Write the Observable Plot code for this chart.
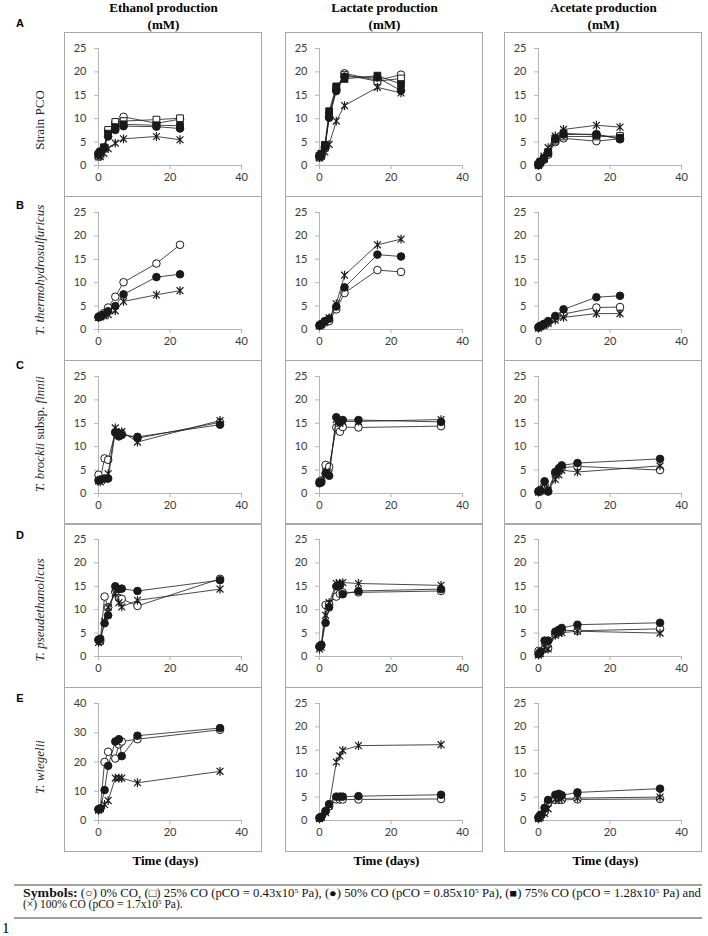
<!DOCTYPE html>
<html><head><meta charset="utf-8">
<script src="https://cdn.jsdelivr.net/npm/d3@7"></script>
<script src="https://cdn.jsdelivr.net/npm/@observablehq/plot@0.6"></script>
<style>
html,body{margin:0;padding:0;background:#fff;}
#root{position:relative;width:708px;height:936px;overflow:hidden;background:#fff;}
</style></head><body><div id="root"></div>
<script>
// ---------- DATA ----------
const columnTitles = ["Ethanol production", "Lactate production", "Acetate production"];
const rowLetters = ["A", "B", "C", "D", "E"];
const seriesKeys = ["0", "25", "50", "75", "100"];
const xTicks = [0, 20, 40];
const yTicks25 = [0, 5, 10, 15, 20, 25];
const yTicks40 = [0, 10, 20, 30, 40];

const tAB = [0, 0.5, 1.5, 2.7, 4.7, 7, 16.2, 22.8];
const tCDE = [0, 0.5, 1.7, 2.7, 4.7, 5.7, 6.5, 10.9, 34];

// Row A: Strain PCO
const A_eth_0   = [2.4, 2.8, 3.8, 7.4, 9.1, 10.4, 9.0, 9.9];
const A_eth_25  = [1.9, 2.5, 3.6, 7.6, 9.3, 9.5, 9.8, 10.1];
const A_eth_50  = [2.6, 3.0, 3.7, 6.2, 7.6, 8.4, 8.3, 7.9];
const A_eth_75  = [2.3, 2.9, 3.9, 6.8, 8.2, 8.8, 8.6, 8.5];
const A_eth_100 = [2.3, 1.9, 2.6, 3.6, 4.8, 5.7, 6.2, 5.5];
const A_lac_0   = [1.8, 2.2, 3.6, 10.4, 16.2, 19.7, 18.2, 19.4];
const A_lac_25  = [1.7, 2.1, 3.8, 10.8, 16.6, 19.4, 18.0, 18.6];
const A_lac_50  = [2.0, 2.3, 4.0, 10.2, 15.9, 19.0, 18.8, 16.0];
const A_lac_75  = [2.1, 2.5, 4.4, 11.6, 16.9, 18.5, 19.2, 17.4];
const A_lac_100 = [1.7, 2.0, 2.9, 4.5, 9.5, 12.8, 16.7, 15.5];
const A_ace_0   = [0.1, 0.5, 1.2, 2.3, 5.0, 5.8, 5.2, 5.7];
const A_ace_25  = [0.2, 0.6, 1.4, 2.6, 5.3, 6.2, 6.2, 6.3];
const A_ace_50  = [0.3, 0.8, 1.6, 2.8, 5.6, 6.6, 6.7, 5.6];
const A_ace_75  = [0.2, 0.7, 1.5, 2.9, 5.8, 6.9, 6.5, 5.9];
const A_ace_100 = [0.0, 0.9, 2.0, 3.8, 6.3, 7.7, 8.6, 8.2];

// Row B: T. thermohydrosulfuricus
const B_eth_0   = [2.7, 3.0, 3.5, 4.7, 7.0, 10.1, 14.1, 18.1];
const B_eth_50  = [2.6, 2.8, 3.2, 3.9, 5.0, 7.5, 11.2, 11.8];
const B_eth_100 = [2.6, 2.7, 2.9, 3.2, 4.0, 6.0, 7.4, 8.3];
const B_lac_0   = [0.8, 1.0, 1.5, 1.8, 4.3, 7.8, 12.7, 12.3];
const B_lac_50  = [0.9, 1.2, 1.8, 2.3, 4.9, 9.0, 16.0, 15.6];
const B_lac_100 = [0.8, 1.0, 1.6, 2.5, 5.5, 11.6, 18.1, 19.3];
const B_ace_0   = [0.4, 0.7, 1.0, 1.5, 2.4, 3.3, 4.7, 4.8];
const B_ace_50  = [0.5, 0.8, 1.2, 1.8, 2.9, 4.3, 6.9, 7.2];
const B_ace_100 = [0.3, 0.6, 0.9, 1.3, 2.0, 2.6, 3.4, 3.4];

// Row C: T. brockii subsp. finnii
const C_eth_0   = [4.0, 3.0, 7.5, 7.2, 13.0, 12.2, 12.8, 11.8, 15.2];
const C_eth_50  = [2.8, 2.9, 3.2, 3.2, 13.1, 12.3, 12.5, 12.1, 14.7];
const C_eth_100 = [2.7, 2.5, 3.0, 4.2, 14.0, 13.0, 13.2, 11.0, 15.6];
const C_lac_0   = [2.5, 2.8, 6.1, 5.7, 14.1, 13.2, 14.2, 14.1, 14.4];
const C_lac_50  = [2.2, 2.4, 4.3, 3.8, 16.3, 15.2, 15.7, 15.7, 15.3];
const C_lac_100 = [2.3, 2.6, 4.6, 4.2, 15.8, 15.0, 15.4, 15.4, 15.8];
const C_ace_0   = [0.5, 0.8, 1.8, 0.4, 4.3, 4.8, 5.5, 5.8, 5.0];
const C_ace_50  = [0.4, 0.6, 2.6, 0.5, 4.6, 5.4, 6.0, 6.5, 7.4];
const C_ace_100 = [0.3, 0.5, 2.2, 0.6, 3.0, 4.0, 5.0, 4.6, 5.9];

// Row D: T. pseudethanolicus
const D_eth_0   = [3.5, 3.3, 12.8, 10.5, 13.8, 12.5, 12.3, 10.8, 16.6];
const D_eth_50  = [3.6, 3.8, 7.1, 8.8, 15.0, 14.4, 14.5, 14.0, 16.3];
const D_eth_100 = [3.0, 3.3, 7.5, 10.5, 13.5, 11.5, 10.6, 12.0, 14.4];
const D_lac_0   = [2.0, 2.4, 11.0, 11.2, 12.8, 13.4, 13.7, 13.7, 14.0];
const D_lac_50  = [2.2, 2.5, 7.2, 10.5, 15.0, 15.2, 13.3, 14.0, 14.4];
const D_lac_100 = [1.6, 2.0, 8.8, 11.5, 15.6, 15.6, 15.8, 15.6, 15.2];
const D_ace_0   = [1.2, 0.8, 1.6, 1.8, 4.8, 5.2, 5.6, 5.5, 5.9];
const D_ace_50  = [0.5, 1.0, 3.4, 3.4, 5.3, 5.7, 6.1, 6.8, 7.2];
const D_ace_100 = [0.3, 0.6, 2.0, 1.6, 4.5, 5.0, 5.1, 5.4, 5.0];

// Row E: T. wiegelii
const E_eth_0   = [3.8, 4.2, 20.0, 23.5, 21.2, 26.0, 27.0, 27.8, 31.0];
const E_eth_50  = [3.8, 4.0, 10.4, 18.7, 27.0, 27.8, 22.0, 29.0, 31.6];
const E_eth_100 = [3.5, 4.0, 5.5, 6.8, 14.5, 14.5, 14.5, 12.9, 16.8];
const E_lac_0   = [0.5, 0.7, 2.0, 3.0, 4.5, 4.5, 4.5, 4.5, 4.6];
const E_lac_50  = [0.6, 0.8, 2.0, 3.5, 5.1, 5.1, 5.1, 5.2, 5.5];
const E_lac_100 = [0.4, 0.7, 1.7, 3.2, 12.5, 13.8, 15.0, 16.0, 16.2];
const E_ace_0   = [0.5, 0.8, 1.8, 3.8, 4.4, 4.4, 4.4, 4.5, 4.6];
const E_ace_50  = [0.7, 1.2, 2.7, 4.4, 5.5, 5.7, 5.4, 6.0, 6.8];
const E_ace_100 = [0.4, 0.6, 1.5, 2.5, 4.6, 4.6, 4.7, 4.8, 5.0];

// ---------- PANELS (built from the arrays above) ----------
const panels = [
  {r:0,c:0,t:tAB,yMax:25,yTicks:yTicks25,s:{"0":A_eth_0,"25":A_eth_25,"50":A_eth_50,"75":A_eth_75,"100":A_eth_100}},
  {r:0,c:1,t:tAB,yMax:25,yTicks:yTicks25,s:{"0":A_lac_0,"25":A_lac_25,"50":A_lac_50,"75":A_lac_75,"100":A_lac_100}},
  {r:0,c:2,t:tAB,yMax:25,yTicks:yTicks25,s:{"0":A_ace_0,"25":A_ace_25,"50":A_ace_50,"75":A_ace_75,"100":A_ace_100}},
  {r:1,c:0,t:tAB,yMax:25,yTicks:yTicks25,s:{"0":B_eth_0,"50":B_eth_50,"100":B_eth_100}},
  {r:1,c:1,t:tAB,yMax:25,yTicks:yTicks25,s:{"0":B_lac_0,"50":B_lac_50,"100":B_lac_100}},
  {r:1,c:2,t:tAB,yMax:25,yTicks:yTicks25,s:{"0":B_ace_0,"50":B_ace_50,"100":B_ace_100}},
  {r:2,c:0,t:tCDE,yMax:25,yTicks:yTicks25,s:{"0":C_eth_0,"50":C_eth_50,"100":C_eth_100}},
  {r:2,c:1,t:tCDE,yMax:25,yTicks:yTicks25,s:{"0":C_lac_0,"50":C_lac_50,"100":C_lac_100}},
  {r:2,c:2,t:tCDE,yMax:25,yTicks:yTicks25,s:{"0":C_ace_0,"50":C_ace_50,"100":C_ace_100}},
  {r:3,c:0,t:tCDE,yMax:25,yTicks:yTicks25,s:{"0":D_eth_0,"50":D_eth_50,"100":D_eth_100}},
  {r:3,c:1,t:tCDE,yMax:25,yTicks:yTicks25,s:{"0":D_lac_0,"50":D_lac_50,"100":D_lac_100}},
  {r:3,c:2,t:tCDE,yMax:25,yTicks:yTicks25,s:{"0":D_ace_0,"50":D_ace_50,"100":D_ace_100}},
  {r:4,c:0,t:tCDE,yMax:40,yTicks:yTicks40,s:{"0":E_eth_0,"50":E_eth_50,"100":E_eth_100}},
  {r:4,c:1,t:tCDE,yMax:25,yTicks:yTicks25,s:{"0":E_lac_0,"50":E_lac_50,"100":E_lac_100}},
  {r:4,c:2,t:tCDE,yMax:25,yTicks:yTicks25,s:{"0":E_ace_0,"50":E_ace_50,"100":E_ace_100}}
];

// ---------- LAYOUT ----------
const colLeft = [64, 285, 504];
const rowTop = [32, 196, 360, 523, 687];
const boxW = 197, boxH = 164;
const AXIS = "#b4b4b4", TXT = "#3a3a3a", BORDER = "#a8a8a8", INK = "#1a1a1a";

// Excel-style "star" marker: an X plus a vertical stroke
const starSymbol = {
  draw(ctx, size) {
    const r = Math.sqrt(size / Math.PI);
    const d = r * 0.78;
    ctx.moveTo(-d, -d); ctx.lineTo(d, d);
    ctx.moveTo(d, -d); ctx.lineTo(-d, d);
    ctx.moveTo(0, -r); ctx.lineTo(0, r);
  }
};
const markerStyle = {
  "0":   {symbol: "circle", fill: "white", stroke: INK, r: 3.8},
  "25":  {symbol: "square", fill: "white", stroke: INK, r: 3.8},
  "50":  {symbol: "circle", fill: INK, stroke: INK, r: 3.8},
  "75":  {symbol: "square", fill: INK, stroke: INK, r: 3.8},
  "100": {symbol: starSymbol, fill: "none", stroke: INK, r: 4.4}
};

const root = document.getElementById("root");
const overlay = d3.create("svg").attr("width", 708).attr("height", 936)
  .style("position", "absolute").style("left", "0px").style("top", "0px");
root.appendChild(overlay.node());

// panel borders
for (const r of rowTop) for (const c of colLeft) {
  overlay.append("rect").attr("x", c + 0.5).attr("y", r + 0.5)
    .attr("width", boxW).attr("height", boxH)
    .attr("fill", "none").attr("stroke", BORDER).attr("stroke-width", 1);
}

// plots
for (const p of panels) {
  const data = [];
  for (const k of seriesKeys) {
    if (!p.s[k]) continue;
    p.s[k].forEach((v, i) => data.push({t: p.t[i], v, s: k}));
  }
  const marks = [
    Plot.ruleY([0], {stroke: AXIS}),
    Plot.ruleX([0], {stroke: AXIS}),
    Plot.axisX({ticks: xTicks, tickSize: 4, tickPadding: 4, stroke: AXIS, fill: TXT, label: null}),
    Plot.axisY({ticks: p.yTicks, tickSize: 4, tickPadding: 8, stroke: AXIS, fill: TXT, label: null})
  ];
  for (const k of seriesKeys) {
    if (!p.s[k]) continue;
    const sub = data.filter(d => d.s === k);
    const m = markerStyle[k];
    marks.push(Plot.line(sub, {x: "t", y: "v", stroke: INK, strokeWidth: 0.8}));
    marks.push(Plot.dot(sub, {x: "t", y: "v", symbol: m.symbol, r: m.r, fill: m.fill, stroke: m.stroke, strokeWidth: k === "100" ? 1.2 : 1}));
  }
  const svg = Plot.plot({
    width: boxW, height: boxH,
    marginLeft: 34, marginRight: 20, marginTop: 16, marginBottom: 31,
    x: {domain: [0, 40]},
    y: {domain: [0, p.yMax]},
    style: {fontFamily: "Lato, 'Open Sans', sans-serif", fontSize: "11px", background: "transparent", overflow: "visible"},
    marks
  });
  svg.style.position = "absolute";
  svg.style.left = colLeft[p.c] + "px";
  svg.style.top = rowTop[p.r] + "px";
  root.appendChild(svg);
}

// column titles
const serif = "'Liberation Serif', 'Times New Roman', serif";
columnTitles.forEach((t, i) => {
  const cx = colLeft[i] + boxW / 2 + 1;
  overlay.append("text").attr("x", cx).attr("y", 12).attr("text-anchor", "middle")
    .attr("font-family", serif).attr("font-weight", "bold").attr("font-size", 13).text(t);
  overlay.append("text").attr("x", cx).attr("y", 28.5).attr("text-anchor", "middle")
    .attr("font-family", serif).attr("font-weight", "bold").attr("font-size", 13).text("(mM)");
  overlay.append("text").attr("x", cx + 2).attr("y", 865).attr("text-anchor", "middle")
    .attr("font-family", serif).attr("font-weight", "bold").attr("font-size", 13).text("Time (days)");
});

// row letters
const letterY = [27, 209, 369, 539, 702];
rowLetters.forEach((L, i) => {
  overlay.append("text").attr("x", 20).attr("y", letterY[i]).attr("text-anchor", "middle")
    .attr("font-family", "'Liberation Sans', Arial, sans-serif").attr("font-weight", "bold")
    .attr("font-size", 11).text(L);
});

// row labels (rotated)
const rowLabelParts = [
  [["Strain PCO", false]],
  [["T. thermohydrosulfuricus", true]],
  [["T. brockii", true], [" subsp. ", false], ["finnii", true]],
  [["T. pseudethanolicus", true]],
  [["T. wiegelii", true]]
];
const rowLabelY = [120, 270, 434, 610, 767];
rowLabelParts.forEach((parts, i) => {
  const tx = overlay.append("text")
    .attr("transform", `translate(44,${rowLabelY[i]}) rotate(-90)`)
    .attr("text-anchor", "middle").attr("font-family", serif).attr("font-size", 13).attr("fill", "#222");
  parts.forEach(([s, it]) => tx.append("tspan").attr("font-style", it ? "italic" : "normal").text(s));
});

// footer
overlay.append("line").attr("x1", 14).attr("x2", 702).attr("y1", 885).attr("y2", 885)
  .attr("stroke", "#808080").attr("stroke-width", 1.4);
overlay.append("line").attr("x1", 14).attr("x2", 702).attr("y1", 918).attr("y2", 918)
  .attr("stroke", "#808080").attr("stroke-width", 1.4);

function footerLine(y, pieces, len) {
  const tx = overlay.append("text").attr("x", 23).attr("y", y)
    .attr("font-family", serif).attr("font-size", 11.5).attr("fill", "#111");
  if (len) tx.attr("textLength", len).attr("lengthAdjust", "spacingAndGlyphs");
  pieces.forEach(([s, kind]) => {
    const ts = tx.append("tspan").text(s);
    if (kind === "b") ts.attr("font-weight", "bold").attr("font-size", 12.5);
    if (kind === "sup") ts.attr("font-size", 7).attr("dy", -4);
    if (kind === "after") ts.attr("dy", 4);
  });
}
footerLine(896.5, [
  ["Symbols:", "b"], [" (\u25CB) 0% CO, (\u25A1) 25% CO (pCO = 0.43x10"], ["5", "sup"],
  [" Pa), (\u25CF) 50% CO (pCO = 0.85x10", "after"], ["5", "sup"],
  [" Pa), (\u25A0) 75% CO (pCO = 1.28x10", "after"], ["5", "sup"], [" Pa) and", "after"]
], 678);
footerLine(908, [
  ["(\u00D7) 100% CO (pCO = 1.7x10"], ["5", "sup"], [" Pa).", "after"]
], null);

overlay.append("text").attr("x", 2).attr("y", 933).attr("font-family", serif)
  .attr("font-size", 15).text("1");
</script>
</body></html>
